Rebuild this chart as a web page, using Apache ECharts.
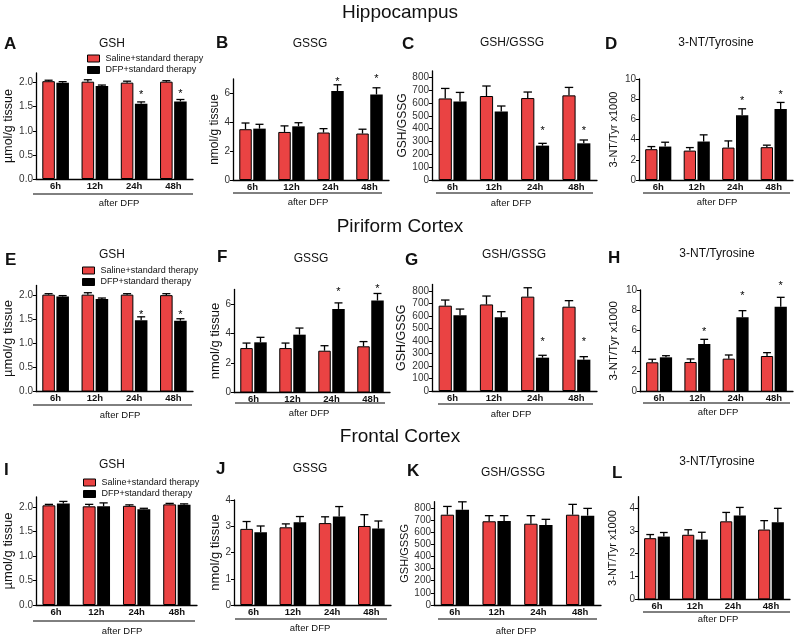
<!DOCTYPE html>
<html><head><meta charset="utf-8">
<script src="https://cdn.jsdelivr.net/npm/echarts@6/dist/echarts.min.js"></script>
<style>html,body{margin:0;padding:0;background:#fff}#c{width:800px;height:636px}</style>
</head><body><div id="c"></div>
<script>
// ---------- DATA ----------
const categories = ['6h', '12h', '24h', '48h'];
const SAL = 'Saline+standard therapy';
const DFP = 'DFP+standard therapy';

// Hippocampus
const aSaline = [2.03, 2.02, 2.00, 2.02], aSalineErr = [0.02, 0.04, 0.03, 0.02];
const aDfp = [2.00, 1.93, 1.56, 1.61], aDfpErr = [0.02, 0.02, 0.04, 0.04];
const aStars = [null, null, 1.80, 1.83];
const bSaline = [3.52, 3.33, 3.29, 3.22], bSalineErr = [0.43, 0.42, 0.27, 0.30];
const bDfp = [3.56, 3.72, 6.16, 5.93], bDfpErr = [0.30, 0.25, 0.44, 0.46];
const bStars = [null, null, 7.01, 7.19];
const cSaline = [636, 655, 639, 660], cSalineErr = [78, 78, 47, 62];
const cDfp = [613, 535, 268, 286], cDfpErr = [70, 42, 18, 26];
const cStars = [null, null, 407, 407];
const dSaline = [3.05, 2.91, 3.21, 3.25], dSalineErr = [0.26, 0.30, 0.66, 0.20];
const dDfp = [3.31, 3.81, 6.42, 7.02], dDfpErr = [0.43, 0.66, 0.63, 0.66];
const dStars = [null, null, 8.11, 8.71];
// Piriform cortex
const eSaline = [2.01, 2.01, 2.01, 2.00], eSalineErr = [0.02, 0.04, 0.02, 0.03];
const eDfp = [1.97, 1.92, 1.48, 1.47], eDfpErr = [0.02, 0.02, 0.07, 0.04];
const eStars = [null, null, 1.66, 1.66];
const fSaline = [3.02, 3.02, 2.84, 3.14], fSalineErr = [0.34, 0.34, 0.34, 0.32];
const fDfp = [3.41, 3.93, 5.68, 6.25], fDfpErr = [0.34, 0.45, 0.41, 0.48];
const fStars = [null, null, 7.03, 7.21];
const gSaline = [681, 691, 753, 673], gSalineErr = [45, 67, 71, 48];
const gDfp = [604, 588, 266, 250], gDfpErr = [50, 45, 19, 24];
const gStars = [null, null, 415, 415];
const hSaline = [2.89, 2.92, 3.25, 3.51], hSalineErr = [0.30, 0.30, 0.36, 0.33];
const hDfp = [3.38, 4.69, 7.31, 8.36], hDfpErr = [0.16, 0.46, 0.66, 0.92];
const hStars = [null, 6.14, 9.67, 10.7];
// Frontal cortex
const iSaline = [2.03, 2.01, 2.02, 2.05], iSalineErr = [0.02, 0.04, 0.02, 0.02];
const iDfp = [2.07, 2.01, 1.95, 2.04], iDfpErr = [0.04, 0.07, 0.02, 0.02];
const iStars = [null, null, null, null];
const jSaline = [2.90, 2.96, 3.12, 3.01], jSalineErr = [0.28, 0.13, 0.24, 0.43];
const jDfp = [2.77, 3.15, 3.37, 2.91], jDfpErr = [0.24, 0.22, 0.38, 0.29];
const jStars = [null, null, null, null];
const kSaline = [743, 689, 669, 743], kSalineErr = [68, 46, 66, 85];
const kDfp = [784, 691, 658, 735], kDfpErr = [65, 44, 47, 60];
const kStars = [null, null, null, null];
const lSaline = [2.68, 2.83, 3.42, 3.06], lSalineErr = [0.16, 0.22, 0.39, 0.39];
const lDfp = [2.75, 2.62, 3.67, 3.38], lDfpErr = [0.18, 0.32, 0.36, 0.61];
const lStars = [null, null, null, null];

// tick labels
const gshTicks = [0, 0.5, 1.0, 1.5, 2.0];
const gssgTicks = [0, 2, 4, 6];
const gssgTicksFrontal = [0, 1, 2, 3, 4];
const ratioTicks = [0, 100, 200, 300, 400, 500, 600, 700, 800];
const ntTicks = [0, 2, 4, 6, 8, 10];
const ntTicksFrontal = [0, 1, 2, 3, 4];

const sectionTitles = ['Hippocampus', 'Piriform Cortex', 'Frontal Cortex'];
const panelTitles = ['GSH', 'GSSG', 'GSH/GSSG', '3-NT/Tyrosine'];
const yNames = ['\u00b5mol/g tissue', 'nmol/g tissue', 'GSH/GSSG', '3-NT/Tyr x1000'];
const xGroupLabel = 'after DFP';

// ---------- LAYOUT / STYLE ----------
const FONT = '"Liberation Sans", Arial, Helvetica, sans-serif';
const RED = '#ea4343';
const BAR_W = 0.32, BAR_GAP = 0.12;

const panels = [
  {L:'A', s:aSaline, se:aSalineErr, d:aDfp, de:aDfpErr, st:aStars, ticks:gshTicks, max:2.2, dec:1, k:0,
   g:[36,73,157,106], gap:21, ns:12.5, letter:[4,44], title:[112,44], ul:[33,193,194,119,203], legend:[87,54]},
  {L:'B', s:bSaline, se:bSalineErr, d:bDfp, de:bDfpErr, st:bStars, ticks:gssgTicks, max:7, dec:0, k:1,
   g:[233,79,156,101], gap:11.5, ns:12, letter:[216,43], title:[310,44], ul:[233,382,193,308,202]},
  {L:'C', s:cSaline, se:cSalineErr, d:cDfp, de:cDfpErr, st:cStars, ticks:ratioTicks, max:850, dec:0, k:2,
   g:[432,71,165,109], gap:19.5, ns:12, letter:[402,44], title:[512,43], ul:[436,593,193,511,203]},
  {L:'D', s:dSaline, se:dSalineErr, d:dDfp, de:dDfpErr, st:dStars, ticks:ntTicks, max:10, dec:0, k:3,
   g:[639,79,154,101], gap:19.5, ns:11, letter:[605,44], title:[716,43], ul:[643,790,193,717,202]},
  {L:'E', s:eSaline, se:eSalineErr, d:eDfp, de:eDfpErr, st:eStars, ticks:gshTicks, max:2.2, dec:1, k:0,
   g:[36,285.5,157,106], gap:21, ns:13, letter:[5,260], title:[112,255], ul:[33,192,405,120,415], legend:[82,266]},
  {L:'F', s:fSaline, se:fSalineErr, d:fDfp, de:fDfpErr, st:fStars, ticks:gssgTicks, max:7, dec:0, k:1,
   g:[234,289.5,156,103], gap:11.5, ns:13, letter:[217,257], title:[311,259], ul:[235,385,403,309,413]},
  {L:'G', s:gSaline, se:gSalineErr, d:gDfp, de:gDfpErr, st:gStars, ticks:ratioTicks, max:850, dec:0, k:2,
   g:[432,284.5,165,106.5], gap:19, ns:12.5, letter:[405,260], title:[514,255], ul:[438,593,404,511,414]},
  {L:'H', s:hSaline, se:hSalineErr, d:hDfp, de:hDfpErr, st:hStars, ticks:ntTicks, max:10, dec:0, k:3,
   g:[640,290,153,101.7], gap:20, ns:11.5, letter:[608,258], title:[717,254], ul:[643,790,403,718,412]},
  {L:'I', s:iSaline, se:iSalineErr, d:iDfp, de:iDfpErr, st:iStars, ticks:gshTicks, max:2.2, dec:1, k:0,
   g:[36,497,161,108], gap:21.5, ns:13, letter:[4,470], title:[112,465], ul:[33,195,621,122,631], legend:[83,478]},
  {L:'J', s:jSaline, se:jSalineErr, d:jDfp, de:jDfpErr, st:jStars, ticks:gssgTicksFrontal, max:4, dec:0, k:1,
   g:[234,500,157,105], gap:11, ns:13, letter:[216,469], title:[310,469], ul:[235,387,619,310,628]},
  {L:'K', s:kSaline, se:kSalineErr, d:kDfp, de:kDfpErr, st:kStars, ticks:ratioTicks, max:850, dec:0, k:2,
   g:[434,501.7,167,103.3], gap:20.5, ns:11, letter:[407,471], title:[513,473], ul:[438,597,619,516,631]},
  {L:'L', s:lSaline, se:lSalineErr, d:lDfp, de:lDfpErr, st:lStars, ticks:ntTicksFrontal, max:4.5, dec:0, k:3,
   g:[638,496.7,152,102.6], gap:19.5, ns:11, letter:[612,473], title:[717,462], ul:[643,790,612,718,619]}
];
const sectionPos = [[400,13],[400,227],[400,437]];

// ---------- BUILD ----------
function barOffset(api, side) {
  const band = api.size([1, 0])[0];
  const bw = band * BAR_W;
  return { off: side * (bw + bw * BAR_GAP) / 2, bw: bw };
}
function errRender(side) {
  return function (params, api) {
    const x = api.value(0), v = api.value(1), e = api.value(2);
    const p0 = api.coord([x, v]);
    const p1 = api.coord([x, v + e]);
    const o = barOffset(api, side);
    const cx = p0[0] + o.off;
    const cap = o.bw * 0.32;
    const ls = { stroke: '#000', lineWidth: 1.3 };
    return { type: 'group', children: [
      { type: 'line', shape: { x1: cx, y1: p0[1], x2: cx, y2: p1[1] }, style: ls },
      { type: 'line', shape: { x1: cx - cap, y1: p1[1], x2: cx + cap, y2: p1[1] }, style: ls }
    ]};
  };
}
function starRender(params, api) {
  const p = api.coord([api.value(0), api.value(1)]);
  const o = barOffset(api, 1);
  return { type: 'text', x: p[0] + o.off, y: p[1] + 3,
    style: { text: '*', font: '11px ' + FONT, fill: '#000', align: 'center', verticalAlign: 'middle',
             textAlign: 'center', textVerticalAlign: 'middle' } };
}
function gtext(x, y, text, size, weight, align) {
  return { type: 'text', x: x, y: y, silent: true, z: 100,
    style: { text: text, font: weight + ' ' + size + 'px ' + FONT, fill: '#111',
             align: align, verticalAlign: 'middle', textAlign: align, textVerticalAlign: 'middle' } };
}

const grid = [], xAxis = [], yAxis = [], series = [], legend = [], graphic = [];
panels.forEach((P, i) => {
  grid.push({ left: P.g[0], top: P.g[1], width: P.g[2], height: P.g[3] });
  xAxis.push({ type: 'category', gridIndex: i, data: categories,
    axisLine: { lineStyle: { color: '#000', width: 1.3 } }, axisTick: { show: false },
    axisLabel: { color: '#111', fontSize: 9.5, fontWeight: 'bold', fontFamily: FONT, margin: 2 } });
  yAxis.push({ type: 'value', gridIndex: i, min: 0, max: P.max,
    axisLine: { show: true, lineStyle: { color: '#000', width: 1.3 } },
    axisTick: { show: true, length: 3, customValues: P.ticks, lineStyle: { color: '#000', width: 1 } },
    axisLabel: { customValues: P.ticks, fontSize: 10, color: '#333', fontFamily: FONT, margin: 3,
      formatter: P.dec ? (v => v.toFixed(P.dec)) : (v => String(v)) },
    splitLine: { show: false },
    name: yNames[P.k], nameLocation: 'middle', nameGap: P.gap,
    nameTextStyle: { fontSize: P.ns, color: '#111', fontFamily: FONT } });
  series.push({ type: 'bar', name: SAL, xAxisIndex: i, yAxisIndex: i, data: P.s,
    barWidth: (BAR_W * 100) + '%', barGap: (BAR_GAP * 100) + '%',
    itemStyle: { color: RED, borderColor: '#000', borderWidth: 1 } });
  series.push({ type: 'bar', name: DFP, xAxisIndex: i, yAxisIndex: i, data: P.d,
    barWidth: (BAR_W * 100) + '%', barGap: (BAR_GAP * 100) + '%',
    itemStyle: { color: '#000' } });
  series.push({ type: 'custom', xAxisIndex: i, yAxisIndex: i, clip: false, z: 3,
    renderItem: errRender(-1), encode: { x: 0, y: 1 },
    data: P.s.map((v, k) => [k, v, P.se[k]]) });
  series.push({ type: 'custom', xAxisIndex: i, yAxisIndex: i, clip: false, z: 3,
    renderItem: errRender(1), encode: { x: 0, y: 1 },
    data: P.d.map((v, k) => [k, v, P.de[k]]) });
  const stars = P.st.map((v, k) => [k, v]).filter(d => d[1] != null);
  if (stars.length) series.push({ type: 'custom', xAxisIndex: i, yAxisIndex: i, clip: false, z: 4,
    renderItem: starRender, encode: { x: 0, y: 1 }, data: stars });
  if (P.legend) legend.push({ left: P.legend[0], top: P.legend[1], orient: 'vertical', padding: 0,
    itemWidth: 12, itemHeight: 7, itemGap: 2.5, icon: 'rect', selectedMode: false, data: [SAL, DFP],
    textStyle: { fontSize: 9, color: '#111', fontFamily: FONT, padding: [0, 0, 0, 1] },
    itemStyle: { borderColor: '#000', borderWidth: 1 } });
  graphic.push(gtext(P.letter[0], P.letter[1], P.L, 17, 'bold', 'left'));
  graphic.push(gtext(P.title[0], P.title[1], panelTitles[P.k], 12, 'normal', 'center'));
  graphic.push({ type: 'line', silent: true, z: 100,
    shape: { x1: P.ul[0], y1: P.ul[2], x2: P.ul[1], y2: P.ul[2] }, style: { stroke: '#000', lineWidth: 1 } });
  graphic.push(gtext(P.ul[3], P.ul[4], xGroupLabel, 9.5, 'normal', 'center'));
});
sectionTitles.forEach((t, i) => graphic.push(gtext(sectionPos[i][0], sectionPos[i][1], t, 19, 'normal', 'center')));

const chart = echarts.init(document.getElementById('c'), null, { renderer: 'canvas' });
chart.setOption({ animation: false, backgroundColor: '#fff', grid, xAxis, yAxis, series, legend, graphic });
</script></body></html>
